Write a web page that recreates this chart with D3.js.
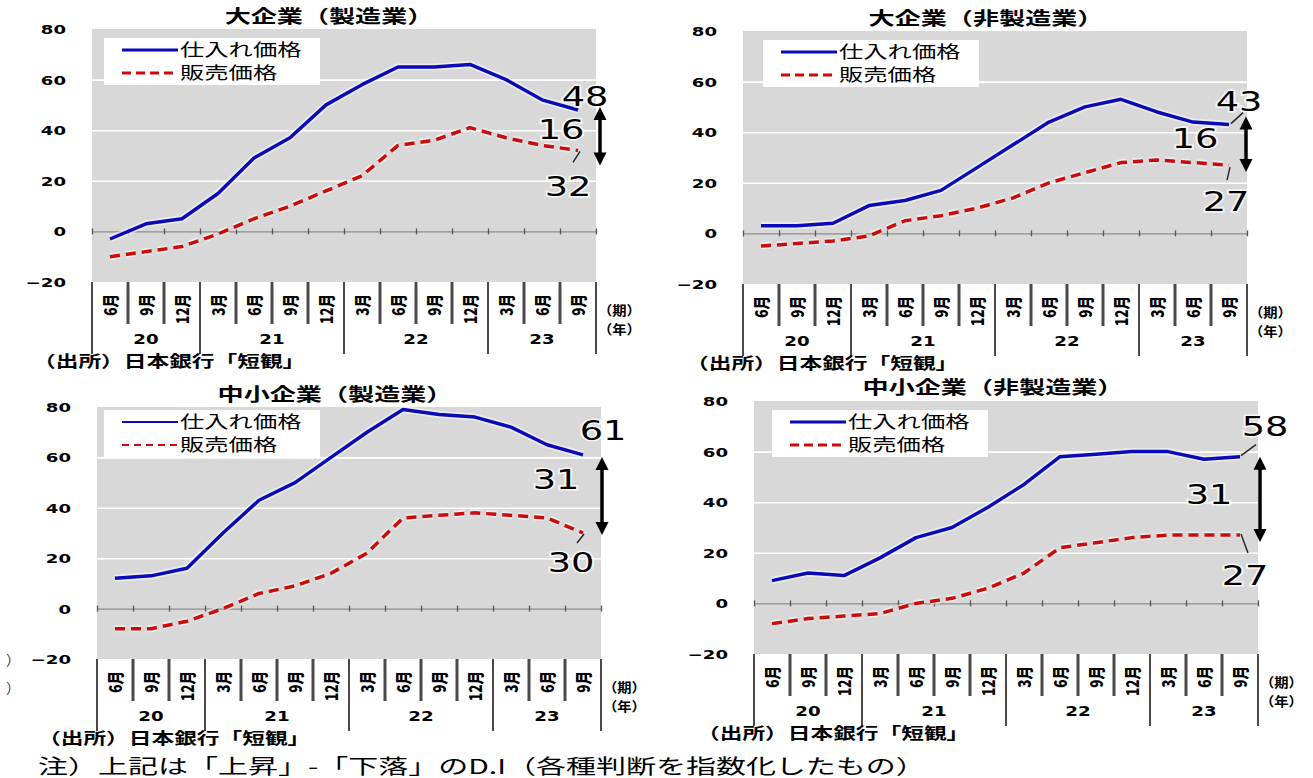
<!DOCTYPE html>
<html>
<head>
<meta charset="utf-8">
<script src="https://cdn.jsdelivr.net/npm/d3@7"></script>
<style>
  body { margin: 0; background: #fff; }
  svg { display: block; }
</style>
</head>
<body>
<svg id="chart" width="1313" height="778"></svg>
<script>
// ---- data -------------------------------------------------------------
const quarters = ["6月","9月","12月","3月","6月","9月","12月","3月","6月","9月","12月","3月","6月","9月"];
const years = ["20","21","22","23"];
const quartersPerYear = [3, 4, 4, 3];
const yTicks = [-20, 0, 20, 40, 60, 80];
const gridValues = [20, 40, 60];
const seriesNames = ["仕入れ価格", "販売価格"];
const panelTitles = ["大企業（製造業）", "大企業（非製造業）", "中小企業（製造業）", "中小企業（非製造業）"];

// 仕入れ価格DI / 販売価格DI
const largeMfgInput     = [-3, 3, 5, 15, 29, 37, 50, 58, 65, 65, 66, 60, 52, 48];
const largeMfgOutput    = [-10, -8, -6, -1, 5, 10, 16, 22, 34, 36, 41, 37, 34, 32];
const largeNonMfgInput  = [3, 3, 4, 11, 13, 17, 26, 35, 44, 50, 53, 48, 44, 43];
const largeNonMfgOutput = [-5, -4, -3, -1, 5, 7, 10, 14, 20, 24, 28, 29, 28, 27];
const smallMfgInput     = [12, 13, 16, 30, 43, 50, 60, 70, 79, 77, 76, 72, 65, 61];
const smallMfgOutput    = [-8, -8, -5, 0, 6, 9, 14, 22, 36, 37, 38, 37, 36, 30];
const smallNonMfgInput  = [9, 12, 11, 18, 26, 30, 38, 47, 58, 59, 60, 60, 57, 58];
const smallNonMfgOutput = [-8, -6, -5, -4, 0, 2, 6, 12, 22, 24, 26, 27, 27, 27];

const periodUnit = "（期）";
const yearUnit = "（年）";
const sourceNote = "（出所）日本銀行「短観」";
const footNote = "注）上記は「上昇」-「下落」のD.I（各種判断を指数化したもの）";

const panels = [
  { title: panelTitles[0], input: largeMfgInput,    output: largeMfgOutput },
  { title: panelTitles[1], input: largeNonMfgInput, output: largeNonMfgOutput },
  { title: panelTitles[2], input: smallMfgInput,    output: smallMfgOutput },
  { title: panelTitles[3], input: smallNonMfgInput, output: smallNonMfgOutput }
];

// ---- layout -------------------------------------------------------------
const SX = 1.4;               // horizontal stretch applied to text
const JP = "'Noto Sans CJK JP', 'Noto Sans', sans-serif";
const NUM = "'DejaVu Sans', sans-serif";
const BLUE = "#0a0ab8";
const RED = "#cc0a0a";

const layout = [
  { plot: { x: 92,  y: 29,  w: 504, h: 253 }, title: [329, 17],  legend: [104, 38],  legendStroke: 3,
    sourceX: 33, arrowDx: 22, arrowPad: [3, 15],
    lbl: { top: [7, -13], bottom: [-10, 36], gap: [-17, -1] },
    leadTop: null, leadBottom: [2, 1, -5, 12] },
  { plot: { x: 743, y: 31,  w: 504, h: 253 }, title: [986, 19],  legend: [763, 40],  legendStroke: 3,
    sourceX: 686, arrowDx: 17, arrowPad: [8, 7],
    lbl: { top: [10, -23], bottom: [-3, 36], gap: [-34, -6] },
    leadTop: [2, -1, 14, -12], leadBottom: [1, 2, -2, 15] },
  { plot: { x: 97,  y: 407, w: 504, h: 252 }, title: [335, 395], legend: [104, 410], legendStroke: 2,
    sourceX: 38, arrowDx: 19, arrowPad: [-2, 2],
    lbl: { top: [20, -24], bottom: [-12, 30], gap: [-27, -14] },
    leadTop: null, leadBottom: [1, 1, -6, 10] },
  { plot: { x: 754, y: 401, w: 504, h: 253 }, title: [993, 388], legend: [772, 410], legendStroke: 3,
    sourceX: 697, arrowDx: 20, arrowPad: [0, 7],
    lbl: { top: [25, -30], bottom: [5, 40], gap: [-31, -1] },
    leadTop: [1, -1, 16, -12], leadBottom: [1, -1, 8, 18] }
];

const svg = d3.select("#chart");

function addText(parent, x, y, str, o) {
  return parent.append("text")
    .attr("transform", `translate(${x},${y}) scale(${o.sx ?? SX},1)`)
    .attr("text-anchor", o.anchor || "start")
    .attr("dy", "0.35em")
    .style("font-family", o.family || JP)
    .style("font-size", o.size + "px")
    .style("font-weight", o.weight || "normal")
    .attr("fill", o.fill || "#000")
    .text(str);
}

panels.forEach((p, i) => {
  const L = layout[i];
  const { x: px, y: py, w, h } = L.plot;
  const g = svg.append("g");
  const n = quarters.length;

  const x = d3.scaleBand().domain(d3.range(n)).range([px, px + w]);
  const xEdge = d3.scaleLinear().domain([0, n]).range([px, px + w]);
  const y = d3.scaleLinear().domain([-20, 80]).range([py + h, py]);
  const cx = k => x(k) + x.bandwidth() / 2;

  // plot background
  g.append("rect").attr("x", px).attr("y", py).attr("width", w).attr("height", h).attr("fill", "#d8d8d8");

  // white gridlines
  g.append("g").attr("transform", `translate(${px},0)`)
    .call(d3.axisLeft(y).tickValues(gridValues).tickSize(-w).tickFormat(""))
    .call(a => a.select(".domain").remove())
    .selectAll("line").attr("stroke", "#fff").attr("stroke-width", 1.6);

  // value axis labels
  const tickSX = 1.45;
  g.append("g").attr("transform", `translate(${px},0)`)
    .call(d3.axisLeft(y).tickValues(yTicks).tickSize(0).tickPadding(26 / tickSX))
    .call(a => a.select(".domain").remove())
    .selectAll("text")
    .attr("transform", `scale(${tickSX},1)`)
    .attr("dy", "0.36em")
    .style("font-family", NUM).style("font-size", "12.5px").style("font-weight", "bold")
    .attr("fill", "#000");

  // zero line with quarter ticks
  const zero = g.append("g").attr("transform", `translate(0,${y(0)})`)
    .call(d3.axisBottom(xEdge).tickValues(d3.range(n + 1)).tickSize(3).tickSizeOuter(0).tickFormat(""));
  zero.select(".domain").attr("stroke", "#8c8c8c").attr("stroke-width", 1.3);
  zero.selectAll(".tick line").attr("y1", -3).attr("y2", 3).attr("stroke", "#555").attr("stroke-width", 1.3);

  // quarter labels under the plot
  const cat = g.append("g").attr("transform", `translate(0,${py + h})`)
    .call(d3.axisBottom(x).tickFormat(k => quarters[k]).tickSize(0));
  cat.select(".domain").remove();
  cat.selectAll("text")
    .attr("x", 0).attr("y", 0).attr("dy", "0.38em")
    .attr("text-anchor", "end")
    .attr("transform", `translate(0,12) scale(1.3,1) rotate(-90)`)
    .style("font-family", JP).style("font-size", "13.5px").style("font-weight", "900")
    .attr("fill", "#000");

  // separators: short between quarters, long at year boundaries
  const yearEdges = [0];
  quartersPerYear.forEach(c => yearEdges.push(yearEdges[yearEdges.length - 1] + c));
  d3.range(n + 1).forEach(k => {
    const long = yearEdges.includes(k);
    g.append("line")
      .attr("x1", xEdge(k)).attr("x2", xEdge(k))
      .attr("y1", py + h).attr("y2", py + h + (long ? 72 : 42))
      .attr("stroke", "#4a4a4a").attr("stroke-width", long ? 2 : 3);
  });
  years.forEach((yr, j) => {
    const mid = (xEdge(yearEdges[j]) + xEdge(yearEdges[j + 1])) / 2;
    addText(g, mid, py + h + 57, yr, { size: 14, weight: "bold", family: NUM, anchor: "middle", sx: 1.3 });
  });
  addText(g, px + w + 2, py + h + 28, periodUnit, { size: 13, weight: "bold", sx: 1.1 });
  addText(g, px + w + 2, py + h + 47, yearUnit, { size: 13, weight: "bold", sx: 1.1 });

  // source
  addText(g, L.sourceX, py + h + 79, sourceNote, { size: 16, weight: "bold", sx: 1.42 });

  // title
  addText(g, L.title[0], L.title[1], p.title, { size: 18, weight: "bold", anchor: "middle", sx: 1.45 });

  // series lines with a light halo
  const line = d3.line().x((d, k) => cx(k)).y(d => y(d));
  const series = [
    { values: p.input,  color: BLUE, dash: null },
    { values: p.output, color: RED,  dash: "10,6" }
  ];
  series.forEach(s => {
    g.append("path").attr("d", line(s.values)).attr("fill", "none")
      .attr("stroke", "#fff").attr("stroke-opacity", 0.55).attr("stroke-width", 7)
      .attr("stroke-dasharray", s.dash).attr("stroke-linejoin", "round");
  });
  series.forEach(s => {
    g.append("path").attr("d", line(s.values)).attr("fill", "none")
      .attr("stroke", s.color).attr("stroke-width", 3.5)
      .attr("stroke-dasharray", s.dash).attr("stroke-linejoin", "round");
  });

  // legend
  const [lx, ly] = L.legend;
  const leg = g.append("g");
  leg.append("rect").attr("x", lx).attr("y", ly).attr("width", 216).attr("height", 47).attr("fill", "#fff");
  series.forEach((s, k) => {
    const ry = ly + 12 + k * 23;
    leg.append("line").attr("x1", lx + 18).attr("x2", lx + 74).attr("y1", ry).attr("y2", ry)
      .attr("stroke", s.color).attr("stroke-width", L.legendStroke)
      .attr("stroke-dasharray", s.dash ? (L.legendStroke < 3 ? "7,5" : "9,5") : null);
    addText(leg, lx + 76, ry, seriesNames[k], { size: 17, sx: 1.43 });
  });

  // end-of-period annotations
  const last = n - 1;
  const xe = cx(last);
  const vb = p.input[last], vr = p.output[last];
  const yb = y(vb), yr = y(vr);
  const bigText = (px_, py_, str) => addText(g, px_, py_, str, { size: 27, family: NUM, anchor: "middle", sx: 1.36 })
    .attr("stroke", "#fff").attr("stroke-width", 3).attr("stroke-opacity", 0.8).attr("paint-order", "stroke");

  if (L.leadTop) {
    const t = L.leadTop;
    g.append("line").attr("x1", xe + t[0]).attr("y1", yb + t[1]).attr("x2", xe + t[2]).attr("y2", yb + t[3])
      .attr("stroke", "#222").attr("stroke-width", 1.4);
  }
  if (L.leadBottom) {
    const t = L.leadBottom;
    g.append("line").attr("x1", xe + t[0]).attr("y1", yr + t[1]).attr("x2", xe + t[2]).attr("y2", yr + t[3])
      .attr("stroke", "#222").attr("stroke-width", 1.4);
  }

  bigText(xe + L.lbl.top[0], yb + L.lbl.top[1], String(vb));
  bigText(xe + L.lbl.bottom[0], yr + L.lbl.bottom[1], String(vr));
  bigText(xe + L.lbl.gap[0], (yb + yr) / 2 + L.lbl.gap[1], String(vb - vr));

  // double-headed arrow spanning the gap
  const ax = xe + L.arrowDx;
  const a0 = yb - L.arrowPad[0], a1 = yr + L.arrowPad[1];
  const head = 13, half = 6.5;
  g.append("line").attr("x1", ax).attr("x2", ax).attr("y1", a0 + head - 2).attr("y2", a1 - head + 2)
    .attr("stroke", "#000").attr("stroke-width", 3.5);
  g.append("path").attr("d", `M${ax},${a0} L${ax - half},${a0 + head} L${ax + half},${a0 + head} Z`).attr("fill", "#000");
  g.append("path").attr("d", `M${ax},${a1} L${ax - half},${a1 - head} L${ax + half},${a1 - head} Z`).attr("fill", "#000");
});

// clipped brackets at the far left edge
addText(svg, 6, 660, "）", { size: 14, sx: 1 }).attr("fill", "#333");
addText(svg, 6, 688, "）", { size: 14, sx: 1 }).attr("fill", "#333");

// footnote
addText(svg, 38, 767, footNote, { size: 20, sx: 1.5 });
</script>
</body>
</html>
